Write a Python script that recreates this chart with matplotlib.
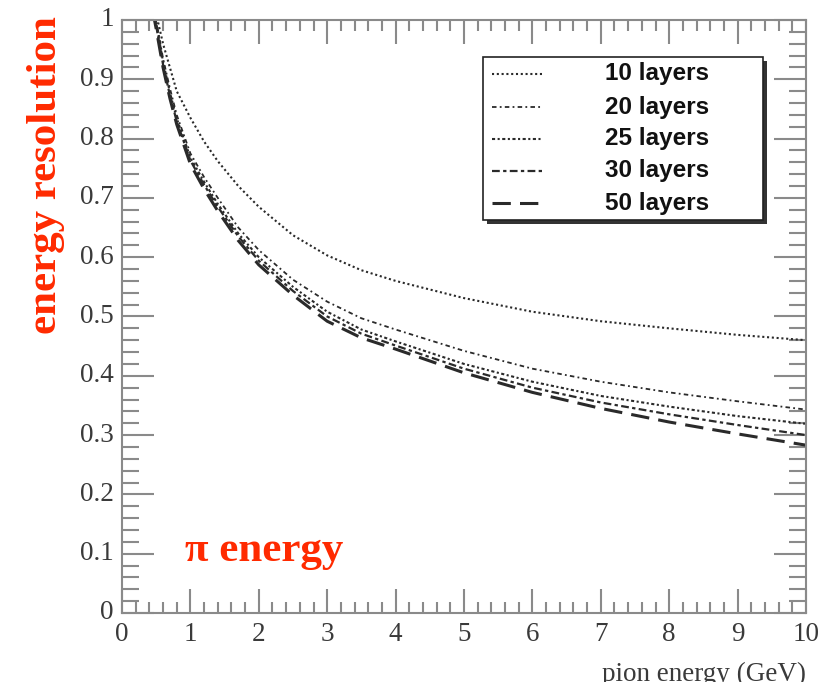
import matplotlib
matplotlib.use("Agg")
import matplotlib.pyplot as plt
from matplotlib.patches import Rectangle
from matplotlib.lines import Line2D
from matplotlib.ticker import MultipleLocator

energy = [0.45, 0.5, 0.6, 0.7, 0.8, 1.0, 1.2, 1.4, 1.7, 2.0,
          2.5, 3.0, 3.5, 4.0, 5.0, 6.0, 7.0, 8.0, 9.0, 10.0]

res_10 = [1.04, 1.01, 0.96, 0.92, 0.88, 0.835, 0.795, 0.762, 0.72, 0.685,
          0.637, 0.603, 0.578, 0.560, 0.531, 0.508, 0.492, 0.480, 0.469, 0.460]
res_20 = [1.03, 1.0, 0.935, 0.885, 0.84, 0.775, 0.735, 0.70, 0.65, 0.612,
          0.562, 0.525, 0.497, 0.478, 0.442, 0.412, 0.390, 0.372, 0.357, 0.343]
res_25 = [1.025, 0.995, 0.93, 0.878, 0.834, 0.768, 0.727, 0.69, 0.64, 0.60,
          0.55, 0.508, 0.478, 0.458, 0.420, 0.390, 0.366, 0.348, 0.332, 0.319]
res_30 = [1.02, 0.99, 0.925, 0.873, 0.829, 0.763, 0.722, 0.685, 0.635, 0.594,
          0.543, 0.500, 0.471, 0.451, 0.412, 0.380, 0.355, 0.335, 0.317, 0.300]
res_50 = [1.015, 0.985, 0.92, 0.868, 0.824, 0.757, 0.715, 0.678, 0.628, 0.587,
          0.536, 0.492, 0.464, 0.445, 0.405, 0.372, 0.345, 0.322, 0.302, 0.283]

series = [
    ("10 layers", res_10, (0, (1.0, 1.3)), 1.5),
    ("20 layers", res_20, (0, (2.5, 1.8, 1.0, 1.8)), 1.3),
    ("25 layers", res_25, (0, (1.5, 1.2, 1.0, 1.2)), 1.5),
    ("30 layers", res_30, (0, (3.5, 1.5, 1.5, 1.5)), 1.6),
    ("50 layers", res_50, (0, (6.0, 3.0)), 2.2),
]

line_color = "#2a2a2a"
axis_color = "#8a8a8a"
label_color = "#3a3a3a"
red = "#ff2a00"

fig = plt.figure(figsize=(8.21, 6.82), dpi=100)
ax = fig.add_axes([0.1486, 0.1012, 0.8331, 0.8695])

for name, values, style, lw in series:
    ax.plot(energy, values, linestyle=style, linewidth=lw, color=line_color,
            label=name, clip_on=True)

ax.set_xlim(0, 10)
ax.set_ylim(0, 1)

ax.xaxis.set_major_locator(MultipleLocator(1))
ax.xaxis.set_minor_locator(MultipleLocator(0.2))
ax.yaxis.set_major_locator(MultipleLocator(0.1))
ax.yaxis.set_minor_locator(MultipleLocator(0.02))
ax.set_xticklabels([])
ax.set_yticklabels([])

ax.tick_params(axis="x", which="major", direction="in", length=17, width=1.5,
               color=axis_color, top=True, bottom=True, labelbottom=False)
ax.tick_params(axis="x", which="minor", direction="in", length=8, width=1.5,
               color=axis_color, top=True, bottom=True)
ax.tick_params(axis="y", which="major", direction="in", length=23, width=1.5,
               color=axis_color, left=True, right=True, labelleft=False)
ax.tick_params(axis="y", which="minor", direction="in", length=12, width=1.5,
               color=axis_color, left=True, right=True)
for sp in ax.spines.values():
    sp.set_color(axis_color)
    sp.set_linewidth(1.5)

tick_font = dict(family="Liberation Serif", size=19.5, color=label_color)
for v in range(11):
    ax.text(v, -0.016, str(v), ha="center", va="top", **tick_font)
for i in range(11):
    y = i / 10
    txt = "0" if i == 0 else ("1" if i == 10 else f"{y:.1f}")
    ax.text(-0.12, y, txt, ha="right", va="center", **tick_font)

ax.text(1.0, -0.082, "pion energy (GeV)", transform=ax.transAxes,
        ha="right", va="top", **tick_font)

# red annotations
fig.text(0.056, 0.743, "energy resolution", rotation=90, ha="center",
         va="center", family="Liberation Serif", weight="bold", size=31,
         color=red)
ax.text(0.092, 0.105, "\u03c0 energy", transform=ax.transAxes, ha="left",
        va="center", family="Liberation Serif", weight="bold", size=31,
        color=red)

# ROOT-style legend box with shadow
bx0, by0, bw, bh = 0.528, 0.663, 0.409, 0.275
ax.add_patch(Rectangle((bx0 + 0.006, by0 - 0.007), bw, bh,
                       transform=ax.transAxes, facecolor="#333333",
                       edgecolor="none", zorder=4))
ax.add_patch(Rectangle((bx0, by0), bw, bh, transform=ax.transAxes,
                       facecolor="white", edgecolor="#222222", linewidth=1.2,
                       zorder=5))
row_y = [0.909, 0.853, 0.800, 0.746, 0.691]
for (name, _, style, lw), yy in zip(series, row_y):
    ax.add_line(Line2D([0.541, 0.614], [yy, yy], transform=ax.transAxes,
                       linestyle=style, linewidth=lw, color=line_color,
                       zorder=6))
    ax.text(0.706, yy, name, transform=ax.transAxes, ha="left", va="center",
            family="Liberation Sans", weight="bold", size=17.5,
            color="#111111", zorder=6)

fig.savefig("out.png", dpi=100)
